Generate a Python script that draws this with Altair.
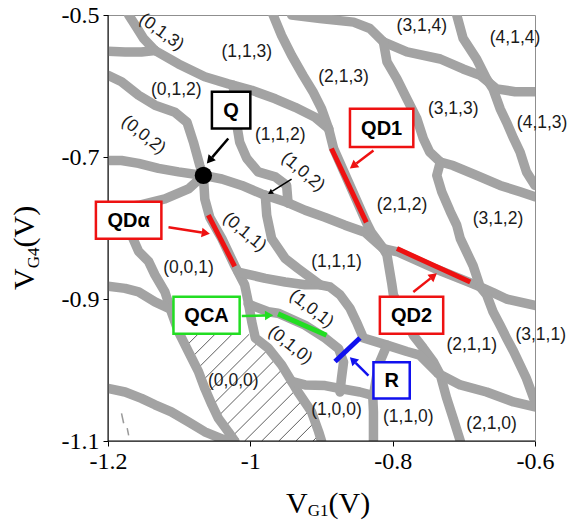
import math
import numpy as np
import pandas as pd
import altair as alt

# ---------------- gray transition bands (V_G1, V_G4) in volts ----------------
BAND_01 = [(-1.171, -0.500), (-1.160, -0.517), (-1.150, -0.533), (-1.134, -0.550)]
BAND_02 = [(-1.200, -0.551), (-1.176, -0.552), (-1.153, -0.552), (-1.134, -0.550)]
BAND_03 = [(-1.134, -0.550), (-1.101, -0.569), (-1.064, -0.587), (-1.031, -0.597), (-0.998, -0.606),
           (-0.965, -0.618), (-0.937, -0.630), (-0.909, -0.644), (-0.890, -0.660)]
BAND_04 = [(-0.968, -0.500), (-0.956, -0.529), (-0.942, -0.557), (-0.926, -0.585), (-0.912, -0.608),
           (-0.900, -0.632), (-0.890, -0.660)]
BAND_05 = [(-0.890, -0.660), (-0.883, -0.688), (-0.860, -0.740), (-0.837, -0.792), (-0.830, -0.806),
           (-0.813, -0.829), (-0.808, -0.838), (-0.801, -0.880), (-0.799, -0.894), (-0.771, -0.951),
           (-0.757, -0.969), (-0.743, -0.988), (-0.733, -1.007), (-0.724, -1.040), (-0.715, -1.068),
           (-0.705, -1.100)]
BAND_06 = [(-0.813, -0.829), (-0.792, -0.834), (-0.741, -0.857), (-0.694, -0.876), (-0.677, -0.883),
           (-0.659, -0.891), (-0.640, -0.900), (-0.600, -0.909)]
BAND_07 = [(-0.942, -0.500), (-0.902, -0.505), (-0.855, -0.510), (-0.832, -0.519), (-0.813, -0.538)]
BAND_08 = [(-0.813, -0.538), (-0.780, -0.552), (-0.733, -0.562), (-0.701, -0.576), (-0.677, -0.585),
           (-0.654, -0.604), (-0.628, -0.608), (-0.600, -0.608)]
BAND_09 = [(-0.813, -0.538), (-0.808, -0.566), (-0.794, -0.590), (-0.780, -0.618), (-0.766, -0.646),
           (-0.757, -0.674), (-0.748, -0.693), (-0.733, -0.707)]
BAND_10 = [(-0.733, -0.707), (-0.715, -0.712), (-0.682, -0.726), (-0.649, -0.740), (-0.621, -0.749),
           (-0.600, -0.756)]
BAND_11 = [(-0.733, -0.707), (-0.738, -0.726), (-0.731, -0.749), (-0.719, -0.777), (-0.710, -0.796),
           (-0.705, -0.815), (-0.696, -0.834), (-0.687, -0.853), (-0.677, -0.883)]
BAND_12 = [(-0.677, -0.883), (-0.668, -0.894), (-0.659, -0.918), (-0.649, -0.937), (-0.640, -0.955),
           (-0.630, -0.974), (-0.621, -0.993), (-0.612, -1.012), (-0.600, -1.045)]
BAND_13 = [(-0.710, -0.500), (-0.701, -0.533), (-0.682, -0.562), (-0.668, -0.590), (-0.659, -0.604),
           (-0.649, -0.632), (-0.640, -0.651), (-0.630, -0.674), (-0.621, -0.693), (-0.612, -0.721),
           (-0.600, -0.740)]
BAND_14 = [(-1.200, -0.585), (-1.181, -0.594), (-1.157, -0.613), (-1.134, -0.627), (-1.106, -0.637),
           (-1.089, -0.651), (-1.080, -0.679), (-1.071, -0.712), (-1.066, -0.726)]
BAND_15 = [(-1.024, -0.599), (-1.019, -0.655), (-1.015, -0.679), (-1.005, -0.702), (-0.989, -0.721),
           (-0.965, -0.728), (-0.949, -0.740), (-0.947, -0.765)]
BAND_16 = [(-1.066, -0.726), (-1.040, -0.731), (-1.012, -0.740), (-0.984, -0.752), (-0.951, -0.763),
           (-0.923, -0.775), (-0.895, -0.785), (-0.867, -0.796), (-0.839, -0.806), (-0.813, -0.829)]
BAND_17 = [(-1.200, -0.705), (-1.181, -0.705), (-1.157, -0.709), (-1.129, -0.716), (-1.101, -0.721),
           (-1.066, -0.726)]
BAND_18 = [(-1.066, -0.726), (-1.064, -0.759), (-1.057, -0.785), (-1.040, -0.815), (-1.022, -0.853),
           (-1.008, -0.880), (-1.003, -0.904), (-0.998, -0.932), (-0.993, -0.955), (-0.975, -0.969),
           (-0.956, -0.993), (-0.942, -1.016), (-0.933, -1.031), (-0.914, -1.059), (-0.904, -1.087),
           (-0.900, -1.100)]
BAND_19 = [(-1.066, -0.726), (-1.087, -0.745), (-1.120, -0.759), (-1.157, -0.768), (-1.200, -0.773)]
BAND_20 = [(-1.162, -0.777), (-1.167, -0.810), (-1.157, -0.833), (-1.143, -0.847), (-1.134, -0.866),
           (-1.120, -0.890), (-1.111, -0.918), (-1.101, -0.946), (-1.087, -0.974), (-1.073, -1.002),
           (-1.064, -1.026), (-1.054, -1.049), (-1.045, -1.068), (-1.031, -1.087), (-1.022, -1.100)]
BAND_21 = [(-1.200, -0.882), (-1.176, -0.885), (-1.157, -0.890), (-1.134, -0.904), (-1.115, -0.913)]
BAND_22 = [(-1.200, -1.026), (-1.176, -1.031), (-1.153, -1.040), (-1.134, -1.049), (-1.111, -1.059),
           (-1.087, -1.073), (-1.064, -1.087), (-1.040, -1.097), (-1.022, -1.100)]
BAND_23 = [(-1.017, -0.862), (-0.979, -0.871), (-0.951, -0.876), (-0.923, -0.880), (-0.902, -0.880),
           (-0.888, -0.883), (-0.874, -0.894), (-0.860, -0.913), (-0.851, -0.932), (-0.841, -0.955),
           (-0.808, -0.965), (-0.780, -0.974), (-0.762, -0.979), (-0.736, -1.005)]
BAND_24 = [(-0.979, -0.754), (-0.977, -0.782), (-0.970, -0.815), (-0.951, -0.843), (-0.933, -0.857),
           (-0.902, -0.880)]
BAND_25 = [(-1.003, -0.907), (-0.975, -0.918), (-0.961, -0.920), (-0.923, -0.937), (-0.895, -0.955),
           (-0.876, -0.970), (-0.869, -0.989), (-0.872, -1.012), (-0.874, -1.031)]
BAND_26 = [(-0.942, -1.016), (-0.923, -1.021), (-0.895, -1.022), (-0.874, -1.026), (-0.846, -1.031),
           (-0.827, -1.036)]
BAND_27 = [(-0.828, -1.036), (-0.827, -1.059), (-0.827, -1.100)]
BAND_28 = [(-0.736, -1.005), (-0.705, -1.021), (-0.668, -1.031), (-0.630, -1.045), (-0.600, -1.052)]
BAND_29 = [(-0.808, -0.965), (-0.820, -0.993), (-0.827, -1.036)]

BANDS = [BAND_01, BAND_02, BAND_03, BAND_04, BAND_05, BAND_06, BAND_07, BAND_08, BAND_09, BAND_10,
         BAND_11, BAND_12, BAND_13, BAND_14, BAND_15, BAND_16, BAND_17, BAND_18, BAND_19, BAND_20,
         BAND_21, BAND_22, BAND_23, BAND_24, BAND_25, BAND_26, BAND_27, BAND_28, BAND_29]

# small dashed artefacts bottom-left
DASH_X0 = [-1.181, -1.173]
DASH_Y0 = [-1.061, -1.082]
DASH_X1 = [-1.178, -1.171]
DASH_Y1 = [-1.075, -1.092]

# hatched (0,0,0) region outline
HATCH_X = [-1.099, -1.003, -0.993, -0.975, -0.956, -0.942, -0.933, -0.914, -0.904, -0.900,
           -1.022, -1.031, -1.045, -1.054, -1.064, -1.073, -1.087]
HATCH_Y = [-0.949, -0.949, -0.955, -0.969, -0.993, -1.016, -1.031, -1.059, -1.087, -1.100,
           -1.100, -1.087, -1.068, -1.049, -1.026, -1.002, -0.974]
HATCH_STEP = 0.024

# coloured marker segments
SEG_X0 = [-0.886, -1.059, -0.794, -0.961, -0.881]
SEG_Y0 = [-0.688, -0.782, -0.829, -0.921, -0.988]
SEG_X1 = [-0.837, -1.022, -0.691, -0.893, -0.846]
SEG_Y1 = [-0.792, -0.854, -0.876, -0.951, -0.955]
SEG_C = ["#ee1111", "#ee1111", "#ee1111", "#22dd22", "#1111ee"]

# annotation boxes
BOX_T = ["Q", "QD1", "QDα", "QCA", "R", "QD2"]
BOX_X0 = [-1.054, -0.860, -1.217, -1.108, -0.827, -0.818]
BOX_X1 = [-1.000, -0.771, -1.125, -1.015, -0.776, -0.729]
BOX_Y0 = [-0.608, -0.632, -0.763, -0.897, -0.989, -0.897]
BOX_Y1 = [-0.660, -0.686, -0.815, -0.949, -1.040, -0.949]
BOX_C = ["#000000", "#ee1111", "#ee1111", "#22dd22", "#1111ee", "#ee1111"]

# arrows (start -> tip)
ARR_X0 = [-1.031, -0.827, -1.115, -1.012, -0.834, -0.771, -0.942]
ARR_Y0 = [-0.674, -0.691, -0.799, -0.924, -1.008, -0.890, -0.731]
ARR_X1 = [-1.061, -0.860, -1.057, -0.968, -0.860, -0.738, -0.975]
ARR_Y1 = [-0.709, -0.716, -0.808, -0.923, -0.982, -0.864, -0.752]
ARR_C = ["#000000", "#ee1111", "#ee1111", "#22dd22", "#1111ee", "#ee1111", "#000000"]
ARR_W = [2.5, 2.5, 2.5, 2.5, 2.5, 2.5, 1.5]

# charge-state labels
LAB_T = ["(0,1,3)", "(1,1,3)", "(2,1,3)", "(3,1,4)", "(4,1,4)", "(0,1,2)", "(1,1,2)", "(3,1,3)",
         "(4,1,3)", "(0,0,2)", "(1,0,2)", "(2,1,2)", "(3,1,2)", "(0,1,1)", "(0,0,1)", "(1,1,1)",
         "(1,0,1)", "(0,1,0)", "(2,1,1)", "(3,1,1)", "(0,0,0)", "(1,0,0)", "(1,1,0)", "(2,1,0)"]
LAB_X = [-1.125, -1.005, -0.869, -0.759, -0.628, -1.104, -0.958, -0.715,
         -0.590, -1.150, -0.926, -0.787, -0.652, -1.008, -1.087, -0.879,
         -0.914, -0.944, -0.689, -0.592, -1.024, -0.879, -0.778, -0.661]
LAB_Y = [-0.524, -0.552, -0.587, -0.515, -0.533, -0.606, -0.669, -0.632,
         -0.652, -0.669, -0.721, -0.768, -0.787, -0.806, -0.857, -0.848,
         -0.914, -0.965, -0.965, -0.951, -1.015, -1.057, -1.066, -1.076]
LAB_A = [36, 0, 0, 0, 0, 0, 0, 0,
         0, 38, 40, 0, 0, 40, 0, 0,
         38, 38, 0, 0, 0, 0, 0, 0]

DOT_X = [-1.066]
DOT_Y = [-0.726]

X_TICKS = [-1.2, -1.0, -0.8, -0.6]
Y_TICKS = [-1.1, -0.9, -0.7, -0.5]

# ---------------- build tables ----------------
rows = []
for b, pts in enumerate(BANDS):
    for k, (x, y) in enumerate(pts):
        rows.append({"band": b, "k": k, "vg1": x, "vg4": y})
bands_df = pd.DataFrame(rows)

vx = np.array(HATCH_X)
vy = np.array(HATCH_Y)


def inside(px, py):
    res = np.zeros(px.shape, dtype=bool)
    j = len(vx) - 1
    for i in range(len(vx)):
        xi, yi, xj, yj = vx[i], vy[i], vx[j], vy[j]
        cond = ((yi > py) != (yj > py)) & (px < (xj - xi) * (py - yi) / (yj - yi + 1e-12) + xi)
        res ^= cond
        j = i
    return res


xs = np.linspace(vx.min(), vx.max(), 1200)
cvals = vy - vx
hrows = []
for c in np.arange(cvals.min() + HATCH_STEP / 2, cvals.max(), HATCH_STEP):
    ys = xs + c
    m = inside(xs, ys)
    if m.sum() > 2:
        idx = np.where(m)[0]
        hrows.append({"x0": xs[idx[0]], "y0": ys[idx[0]], "x1": xs[idx[-1]], "y1": ys[idx[-1]]})
hatch_df = pd.DataFrame(hrows)

dash_df = pd.DataFrame({"x0": DASH_X0, "y0": DASH_Y0, "x1": DASH_X1, "y1": DASH_Y1})
seg_df = pd.DataFrame({"x0": SEG_X0, "y0": SEG_Y0, "x1": SEG_X1, "y1": SEG_Y1, "c": SEG_C})
box_df = pd.DataFrame({"x0": BOX_X0, "x1": BOX_X1, "y0": BOX_Y0, "y1": BOX_Y1, "c": BOX_C, "t": BOX_T})
box_df["cx"] = (box_df.x0 + box_df.x1) / 2
box_df["cy"] = (box_df.y0 + box_df.y1) / 2

PXV_X = 427 / 0.6
PXV_Y = 426 / 0.6
arows = []
for x0, y0, x1, y1, c, w in zip(ARR_X0, ARR_Y0, ARR_X1, ARR_Y1, ARR_C, ARR_W):
    dxs = (x1 - x0) * PXV_X
    dys = -(y1 - y0) * PXV_Y
    L = math.hypot(dxs, dys)
    ux, uy = dxs / L, dys / L
    ang = math.degrees(math.atan2(ux, -uy)) % 360
    back = 4.0 if w > 2 else 2.5
    arows.append({
        "x0": x0, "y0": y0,
        "sx": x1 - ux * (2 * back) / PXV_X, "sy": y1 + uy * (2 * back) / PXV_Y,
        "hx": x1 - ux * back / PXV_X, "hy": y1 + uy * back / PXV_Y,
        "ang": ang, "c": c, "w": w, "s": 90 if w > 2 else 35,
    })
arr_df = pd.DataFrame(arows)

lab_df = pd.DataFrame({"t": LAB_T, "x": LAB_X, "y": LAB_Y, "a": LAB_A})
dot_df = pd.DataFrame({"x": DOT_X, "y": DOT_Y})

# ---------------- scales / axes ----------------
XS = alt.Scale(domain=[-1.2, -0.6], nice=False, zero=False)
YS = alt.Scale(domain=[-1.1, -0.5], nice=False, zero=False)
XAX = alt.Axis(values=X_TICKS, labelExpr="toString(datum.value)", title=None, grid=False,
               domain=False, tickSize=5, tickColor="black", tickWidth=1,
               labelFont="Liberation Serif", labelFontSize=24, labelColor="black",
               labelPadding=3, labelFlush=False, labelOverlap=False)
YAX = alt.Axis(values=Y_TICKS, labelExpr="toString(datum.value)", title=None, grid=False,
               domain=False, tickSize=5, tickColor="black", tickWidth=1,
               labelFont="Liberation Serif", labelFontSize=24, labelColor="black",
               labelPadding=4, labelFlush=False, labelOverlap=False)


def X(f):
    return alt.X(f, type="quantitative", scale=XS, axis=XAX)


def Y(f):
    return alt.Y(f, type="quantitative", scale=YS, axis=YAX)


hatch = alt.Chart(hatch_df).mark_rule(color="#333333", strokeWidth=0.8).encode(
    x=X("x0"), y=Y("y0"), x2="x1", y2="y1")

bands = alt.Chart(bands_df).mark_line(
    color="#a3a3a3", strokeWidth=9.5, strokeJoin="round", strokeCap="round", clip=True
).encode(x=X("vg1"), y=Y("vg4"), detail="band:N", order="k:Q")

dashes = alt.Chart(dash_df).mark_rule(color="#9a9a9a", strokeWidth=1.5).encode(
    x=X("x0"), y=Y("y0"), x2="x1", y2="y1")

axis_src = pd.DataFrame({"a": [0]})
yline = alt.Chart(axis_src).mark_rule(color="black", strokeWidth=1).encode(
    x=alt.value(0), y=alt.value(0), y2=alt.value(426))
xline = alt.Chart(axis_src).mark_rule(color="black", strokeWidth=1).encode(
    x=alt.value(0), x2=alt.value(427), y=alt.value(426))

segs = alt.Chart(seg_df).mark_rule(strokeWidth=5, strokeCap="butt").encode(
    x=X("x0"), y=Y("y0"), x2="x1", y2="y1", color=alt.Color("c:N", scale=None))

shafts = alt.Chart(arr_df).mark_rule(strokeCap="butt").encode(
    x=X("x0"), y=Y("y0"), x2="sx", y2="sy",
    color=alt.Color("c:N", scale=None), strokeWidth=alt.StrokeWidth("w:Q", scale=None))

heads = alt.Chart(arr_df).mark_point(shape="triangle-up", filled=True, opacity=1).encode(
    x=X("hx"), y=Y("hy"), angle=alt.Angle("ang:Q", scale=None),
    color=alt.Color("c:N", scale=None), size=alt.Size("s:Q", scale=None))

boxes = alt.Chart(box_df).mark_rect(fill="white", strokeWidth=2.5).encode(
    x=X("x0"), x2="x1", y=Y("y0"), y2="y1", stroke=alt.Stroke("c:N", scale=None))

box_text = alt.Chart(box_df).mark_text(
    font="Liberation Sans", fontWeight="bold", fontSize=20, color="black",
    align="center", baseline="middle", dy=1
).encode(x=X("cx"), y=Y("cy"), text="t:N")

labels = alt.Chart(lab_df).mark_text(
    font="Liberation Sans", fontSize=17.5, color="#1a1a1a", align="center", baseline="middle"
).encode(x=X("x"), y=Y("y"), text="t:N", angle=alt.Angle("a:Q", scale=None))

dot = alt.Chart(dot_df).mark_point(shape="circle", filled=True, size=300, color="black", opacity=1).encode(
    x=X("x"), y=Y("y"))


def tpart(txt, px, py, fs, ang=0):
    return alt.Chart(axis_src).mark_text(
        text=txt, font="Liberation Serif", fontSize=fs, color="black",
        align="left", baseline="alphabetic", angle=ang
    ).encode(x=alt.value(px), y=alt.value(py))


titles = [
    tpart("V", 178, 498, 30), tpart("G1", 199.7, 501, 17), tpart("(V)", 220.5, 498, 30),
    tpart("V", -74, 275, 30, 270), tpart("G4", -69, 253.3, 17, 270), tpart("(V)", -74, 232.5, 30, 270),
]

chart = alt.layer(
    hatch, bands, dashes, yline, xline, segs, shafts, heads, boxes, box_text, labels, dot, *titles
).properties(
    width=427, height=426,
    padding={"left": 100, "top": 7, "right": 33, "bottom": 79},
    autosize=alt.AutoSizeParams(type="none"),
    background="white",
).configure_view(stroke="#8f8f8f", strokeWidth=1)

chart.save("out.html", embed_options={"renderer": "svg", "actions": False})
